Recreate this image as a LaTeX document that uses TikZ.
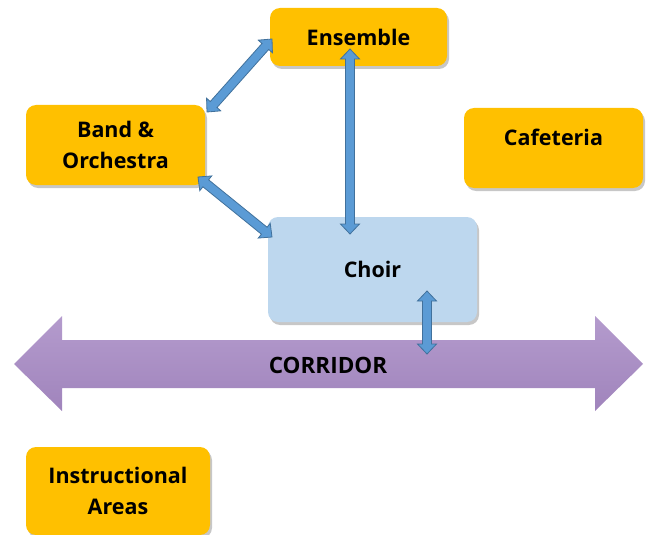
\documentclass[tikz,border=0pt]{standalone}
\usepackage{fontspec}
\setmainfont{Open Sans}
\usetikzlibrary{calc,shadows}
\definecolor{gold}{HTML}{FFC000}
\definecolor{choirblue}{HTML}{BDD7EE}
\definecolor{arrfill}{HTML}{5B9BD5}
\definecolor{arrline}{HTML}{41719C}
\definecolor{corrtop}{HTML}{B49BCD}
\definecolor{corrbot}{HTML}{A084BC}
\tikzset{
  box/.style={rounded corners=10pt, minimum width=#1, align=center,
    font=\fontsize{21.5}{31}\selectfont\bfseries, text=black, inner sep=0pt,
    drop shadow={shadow xshift=2pt, shadow yshift=-3pt, opacity=0.22, fill=black}},
  goldbox/.style={box=#1, fill=gold},
  barrow/.style={fill=arrfill, draw=arrline, line width=0.8pt, line join=miter},
}
\newcommand{\dblarr}[2]{%
  \path[barrow] (#1)
   -- ($(#1)!10pt!(#2)!9.5pt!90:(#2)$)
   -- ($(#1)!10pt!(#2)!4.5pt!90:(#2)$)
   -- ($(#2)!10pt!(#1)!4.5pt!-90:(#1)$)
   -- ($(#2)!10pt!(#1)!9.5pt!-90:(#1)$)
   -- (#2)
   -- ($(#2)!10pt!(#1)!9.5pt!90:(#1)$)
   -- ($(#2)!10pt!(#1)!4.5pt!90:(#1)$)
   -- ($(#1)!10pt!(#2)!4.5pt!-90:(#2)$)
   -- ($(#1)!10pt!(#2)!9.5pt!-90:(#2)$)
   -- cycle;}
\begin{document}
\begin{tikzpicture}[x=1pt,y=-1pt]
\useasboundingbox (0,0) rectangle (649,535);
% corridor
\path[top color=corrtop, bottom color=corrbot, draw=none]
  (14,364) -- (62,316) -- (62,340) -- (595,340) -- (595,316) -- (643,364)
  -- (595,411) -- (595,388) -- (62,388) -- (62,411) -- cycle;
\node (corr) at (328,365) [font=\fontsize{22.5}{26}\selectfont\bfseries] {CORRIDOR};
% boxes
\node[goldbox=177pt, minimum height=58pt] (ens) at (358.5,37) {Ensemble};
\node[goldbox=179pt, minimum height=80pt] (band) at (115.5,145) {Band \&\\Orchestra};
\node[goldbox=179pt, minimum height=80pt, text height=15pt, text depth=20pt] (caf) at (553.5,148) {Cafeteria};
\node[box=209pt, fill=choirblue, minimum height=105pt] (choir) at (372.5,269.5) {Choir};
\node[goldbox=184pt, minimum height=88pt] (instr) at (118,491) {Instructional\\Areas};
% connector ends
\coordinate (eb1) at (272,39);
\coordinate (eb2) at (207,112);
\coordinate (ec1) at (350,49);
\coordinate (ec2) at (350,234);
\coordinate (bc1) at (198,177);
\coordinate (bc2) at (272,237);
\coordinate (cc1) at (427,291);
\coordinate (cc2) at (427,354);
\dblarr{eb1}{eb2}
\dblarr{ec1}{ec2}
\dblarr{bc1}{bc2}
\dblarr{cc1}{cc2}
\end{tikzpicture}
\end{document}
